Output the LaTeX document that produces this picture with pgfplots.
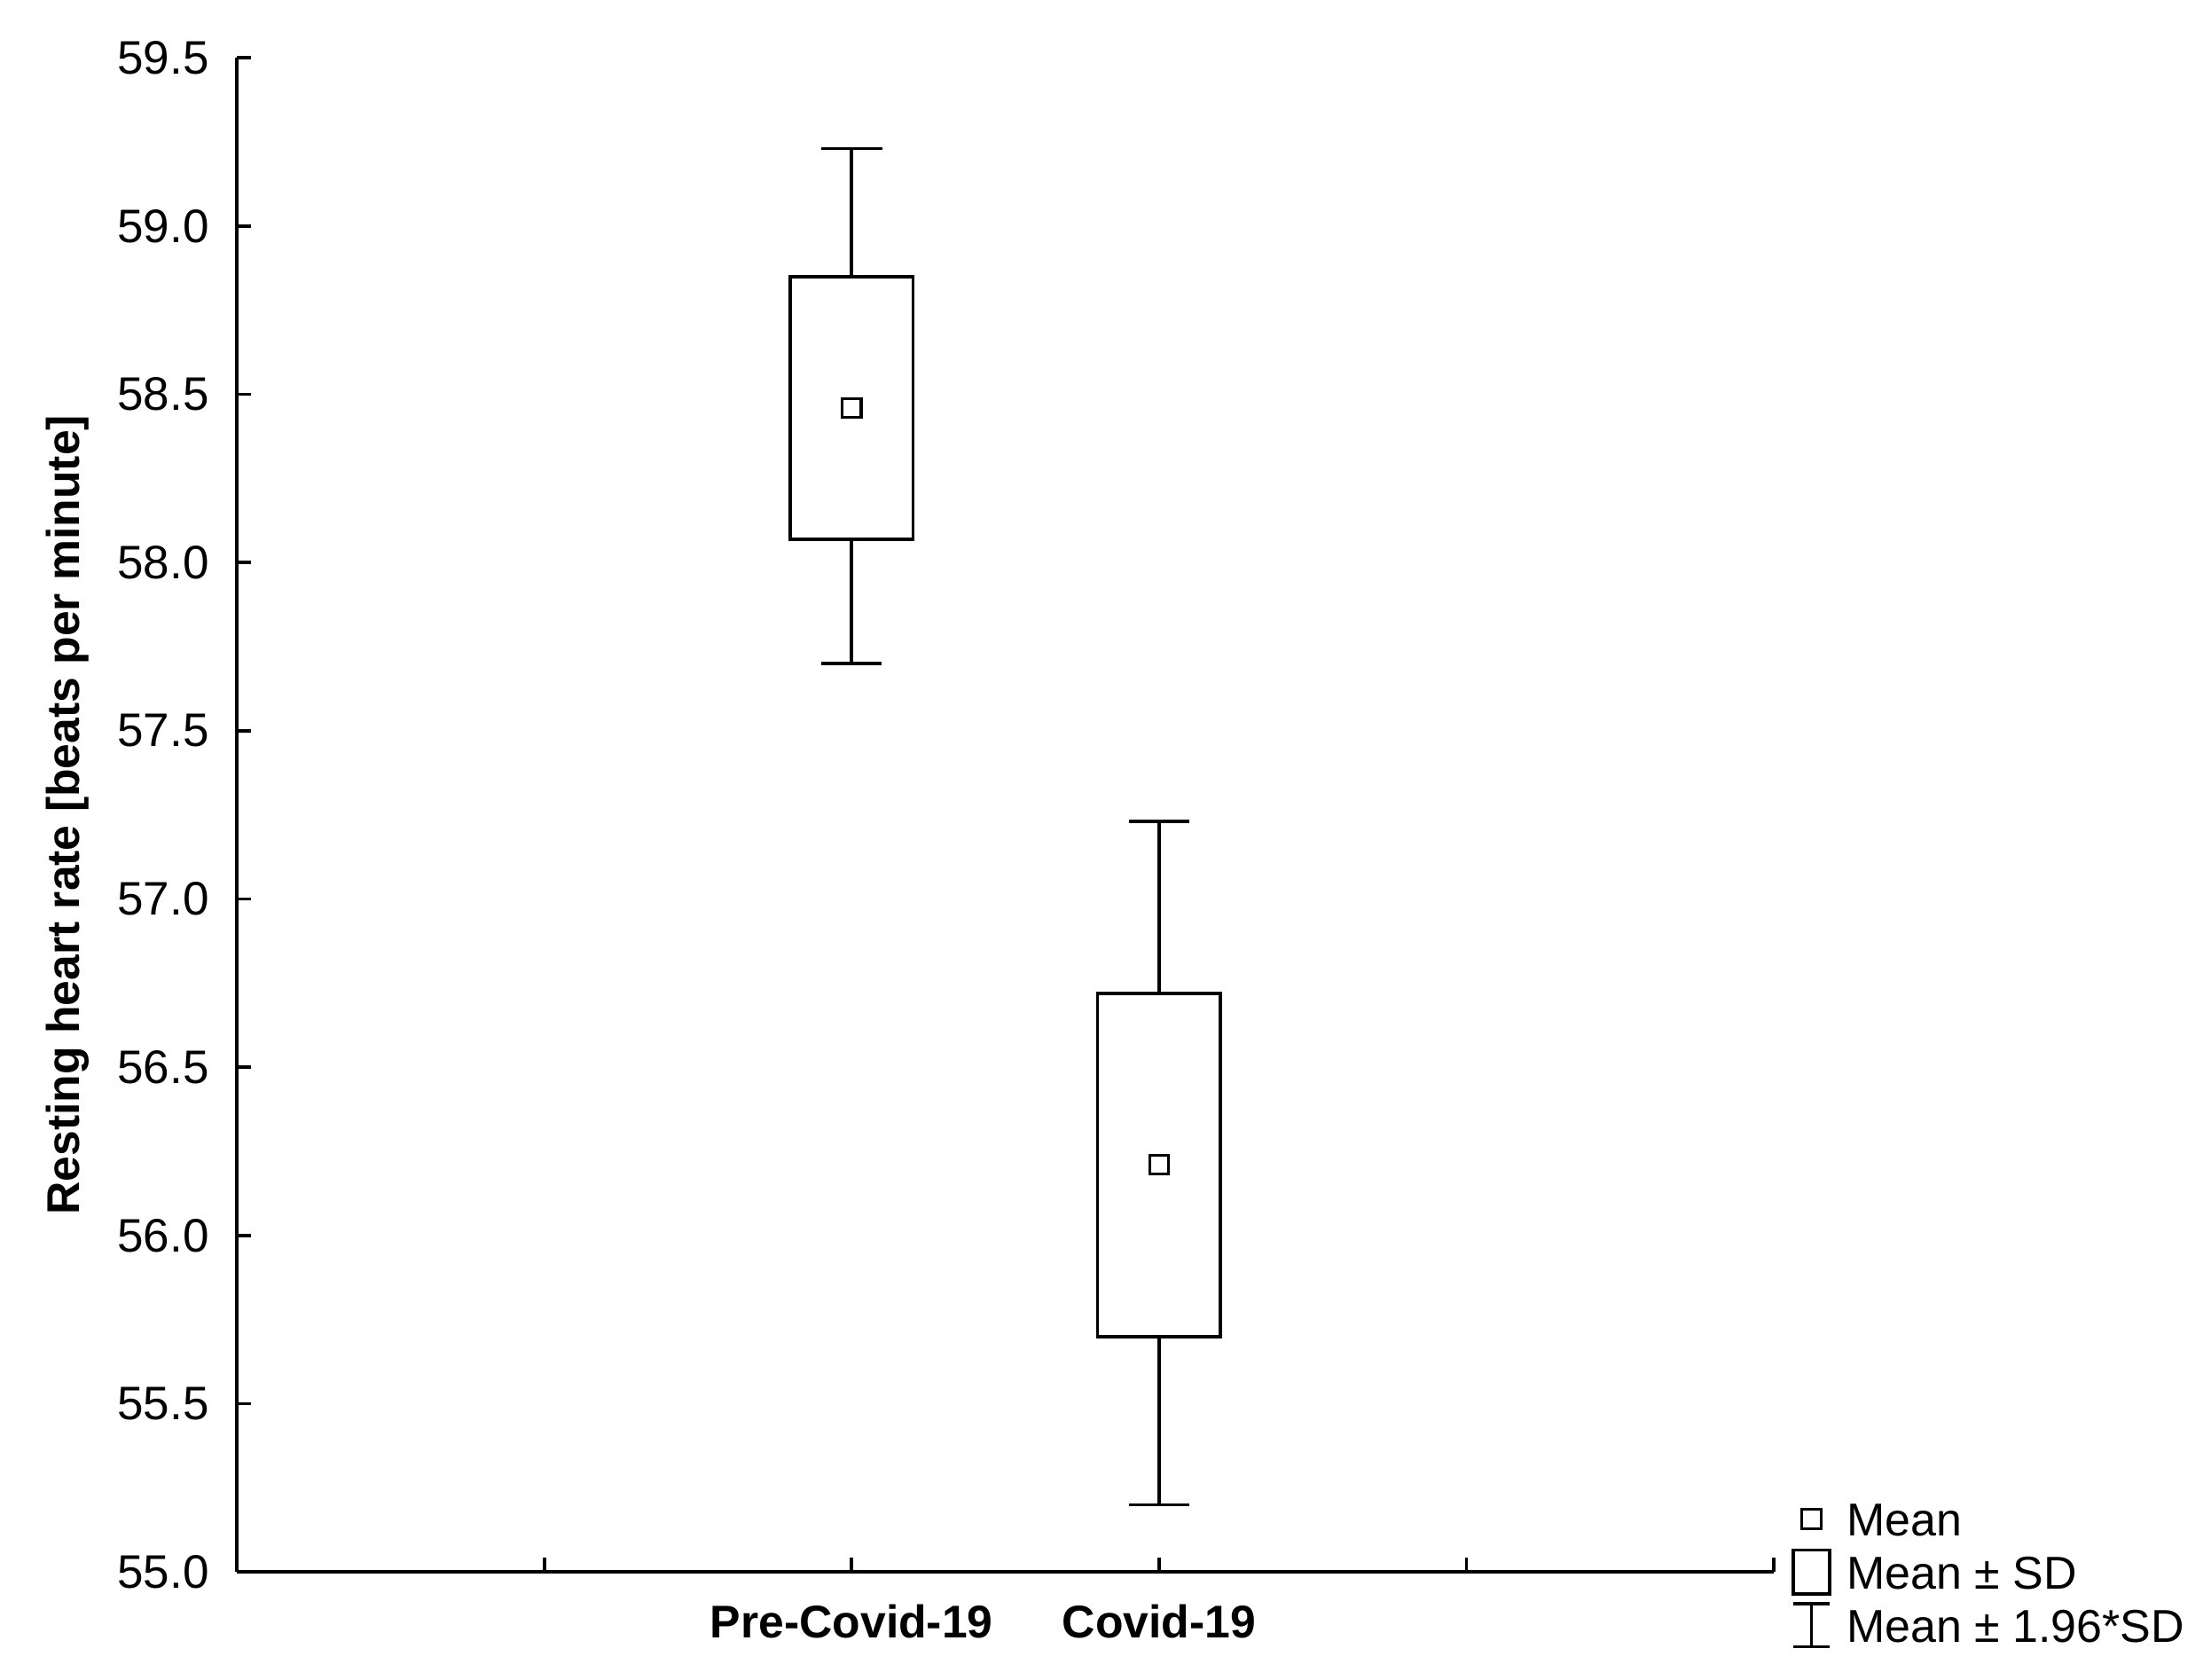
\documentclass[border=0pt]{standalone}
\usepackage{fontspec}
\setmainfont{Liberation Sans}
\usepackage{pgfplots}
\pgfplotsset{compat=1.18}

\begin{document}
\begin{tikzpicture}
\begin{axis}[
  scale only axis, width=327pt, height=322.1pt,
  xmin=0, xmax=5, ymin=55, ymax=59.5,
  axis x line=bottom, axis y line=left,
  axis line style={-, black, line width=0.7pt},
  tick align=inside, major tick length=3pt,
  tick style={black, line width=0.7pt},
  xtick={1,2,3,4,5}, xticklabels={,Pre-Covid-19,Covid-19,,},
  ytick distance=0.5,
  /pgf/number format/.cd, fixed, fixed zerofill, precision=1, assume math mode=true, /pgfplots/.cd,
  yticklabel style={font=\fontsize{10}{12}\selectfont, xshift=-2.4pt},
  xticklabel style={font=\bfseries\fontsize{9.75}{12}\selectfont, yshift=-3.4pt},
  ylabel={Resting heart rate [beats per minute]},
  every axis y label/.style={at={(axis description cs:-0.110,0.5)}, rotate=90, anchor=center, font=\bfseries\fontsize{9.75}{12}\selectfont},
  legend style={draw=none, fill=none, at={(axis description cs:1,0)}, anchor=west, xshift=3.6pt,
    inner sep=0pt, row sep=0pt,
    nodes={inner xsep=3.3pt, inner ysep=0pt, text height=7.2pt, text depth=0pt, minimum height=11.3pt,
      font=\fontsize{9.8}{12}\selectfont}},
  legend cell align=left,
]
% whiskers: mean +/- 1.96*SD
\addplot[forget plot, only marks, mark=none,
  error bars/.cd, y dir=both, y explicit,
  error bar style={line width=0.7pt, black},
  error mark options={rotate=90, mark size=6.45pt, line width=0.7pt, black}]
  coordinates {
    (2,58.46) += (0,0.77) -= (0,0.76)
    (3,56.21) += (0,1.02) -= (0,1.01)
  };
% boxes: mean +/- SD
\addplot[forget plot, black, line width=0.7pt, fill=white]
  coordinates {(1.8,58.07) (2.2,58.07) (2.2,58.85) (1.8,58.85)} -- cycle;
\addplot[forget plot, black, line width=0.7pt, fill=white]
  coordinates {(2.8,55.70) (3.2,55.70) (3.2,56.72) (2.8,56.72)} -- cycle;
% means
\addplot[forget plot, only marks, mark=square*, mark size=2pt,
  mark options={draw=black, fill=white, line width=0.6pt}]
  coordinates {(2,58.46) (3,56.21)};

\addlegendimage{legend image code/.code={\draw[line width=0.6pt, fill=white] (1.8pt,-2.05pt) rectangle (5.9pt,2.05pt);}}
\addlegendentry{Mean}
\addlegendimage{legend image code/.code={\draw[line width=0.7pt] (0pt,-4.7pt) rectangle (7.7pt,4.7pt);}}
\addlegendentry{Mean ± SD}
\addlegendimage{legend image code/.code={\draw[line width=0.7pt] (3.85pt,-4.6pt) -- (3.85pt,4.6pt) (0pt,-4.6pt) -- (7.7pt,-4.6pt) (0pt,4.6pt) -- (7.7pt,4.6pt);}}
\addlegendentry{Mean ± 1.96*SD}
\end{axis}
\pgfresetboundingbox
\path[use as bounding box] (-50.4pt,-22.9pt) rectangle (420pt,334.4pt);
\end{tikzpicture}
\end{document}
